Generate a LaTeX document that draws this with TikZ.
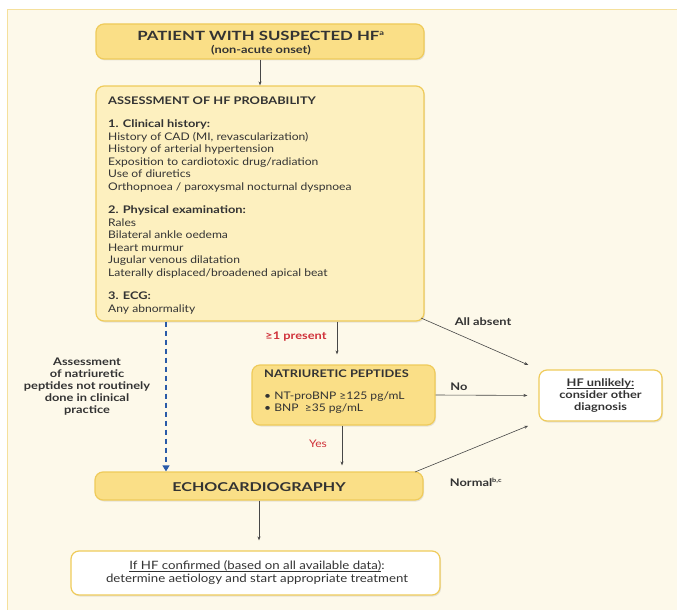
\documentclass[tikz,border=0pt]{standalone}
\usepackage{fontspec}
\setmainfont{Lato}[FakeStretch=1.15]
\newfontfamily\headfont{Lato}[FakeStretch=1.22]
\newfontfamily\titlefont{Lato}[FakeStretch=1.32]
\usetikzlibrary{arrows.meta,shadows,calc}
\definecolor{bgpanel}{HTML}{FDF9EA}
\definecolor{gold}{HTML}{FADF87}
\definecolor{paleyellow}{HTML}{FDF0BF}
\definecolor{boxedge}{HTML}{EFCB5A}
\definecolor{redtxt}{HTML}{D0323A}
\definecolor{bluedash}{HTML}{2A5BA8}
\definecolor{txt}{HTML}{333333}
\tikzset{
  box/.style={draw=boxedge, line width=1.2pt, rounded corners=8pt, inner sep=0pt,
    drop shadow={opacity=0.18, shadow xshift=1pt, shadow yshift=-1.5pt}},
  goldbox/.style={box, fill=gold},
  palebox/.style={box, fill=paleyellow},
  whitebox/.style={box, fill=white},
  conn/.style={draw=txt!90, line width=0.6pt, -{Stealth[length=4pt,width=3pt]}},
  lbl/.style={font=\headfont\fontsize{10.5}{12}\selectfont\bfseries, text=txt, inner sep=0pt},
}
\newcommand{\hd}[1]{{\headfont\bfseries #1}}
\newcommand{\ulx}[1]{\setbox0\hbox{#1}\rlap{\rule[-2pt]{\wd0}{0.75pt}}\box0}
\begin{document}
\begin{tikzpicture}[x=1pt,y=-1pt]
\useasboundingbox (0,0) rectangle (677,610);
\fill[white] (0,0) rectangle (677,610);
\fill[bgpanel] (7,9) rectangle (677,610);
\draw[boxedge!60, line width=0.6pt] (7,610) -- (7,9) -- (677,9);

% boxes
\node[goldbox, minimum width=328pt, minimum height=35pt] (start) at (260,41.5) {};
\node[text=txt, align=center, inner sep=0pt] (starttxt) at (261,43)
  {\titlefont\fontsize{12.7}{13}\selectfont\bfseries PATIENT WITH SUSPECTED HF\textsuperscript{\fontsize{7}{7}\selectfont a}\\[1pt]
   \headfont\fontsize{10.5}{11}\selectfont\bfseries (non-acute onset)};

\node[palebox, minimum width=328pt, minimum height=235pt] (assess) at (260,203.5) {};
\node[anchor=north west, text=txt, align=left, inner sep=0pt,
  font=\fontsize{10.5}{12.5}\selectfont] (assesstxt) at (108,96.5)
  {\hd{ASSESSMENT OF HF PROBABILITY}\\[11pt]
   \hd{1. Clinical history:}\\
   History of CAD (MI, revascularization)\\
   History of arterial hypertension\\
   Exposition to cardiotoxic drug/radiation\\
   Use of diuretics\\
   Orthopnoea / paroxysmal nocturnal dyspnoea\\[11pt]
   \hd{2. Physical examination:}\\
   Rales\\
   Bilateral ankle oedema\\
   Heart murmur\\
   Jugular venous dilatation\\
   Laterally displaced/broadened apical beat\\[11pt]
   \hd{3. ECG:}\\
   Any abnormality};

\node[goldbox, minimum width=183pt, minimum height=60pt] (np) at (343.5,395) {};
\node[anchor=north west, text=txt, align=left, inner sep=0pt,
  font=\fontsize{10.5}{12.4}\selectfont] (nptxt) at (264,370)
  {\hd{NATRIURETIC PEPTIDES}\\[9pt]
   • NT-proBNP ≥125 pg/mL\\
   • BNP\ \ ≥35 pg/mL};

\node[whitebox, minimum width=123pt, minimum height=51pt] (unlikely) at (600.5,395.5) {};
\node[text=txt, align=center, inner sep=0pt, font=\headfont\fontsize{10.5}{12}\selectfont\bfseries] (unlikelytxt) at (600.5,396)
  {\ulx{HF unlikely:}\\consider other\\diagnosis};

\node[goldbox, minimum width=328pt, minimum height=28pt] (echo) at (259,486) {};
\node[text=txt, inner sep=0pt, font=\titlefont\fontsize{12.2}{14}\selectfont\bfseries] (echotxt) at (259,487) {ECHOCARDIOGRAPHY};

\node[whitebox, minimum width=369pt, minimum height=44pt] (final) at (255.5,573) {};
\node[text=txt, align=center, inner sep=0pt, font=\fontsize{11.5}{13}\selectfont] (finaltxt) at (257,573)
  {\ulx{If HF confirmed (based on all available data)}:\\determine aetiology and start appropriate treatment};

% side text
\node[lbl, align=center] (note) at (87,387)
  {Assessment\\of natriuretic\\peptides not routinely\\done in clinical\\practice};

% connectors
\draw[conn] (start.south) -- (assess.north);
\draw[conn, bluedash, draw=bluedash, line width=1.2pt, dash pattern=on 5pt off 4pt,
  -{Triangle[length=6pt,width=7pt]}] (assess.south -| 166,0) -- (echo.north -| 166,0);
\draw[conn] (assess.south -| 337,0) -- ($(np.north -| 337,0)+(0,-10)$);
\node[lbl, text=redtxt] (present) at (296,337) {≥1 present};
\coordinate (c1) at (421,318);
\draw[conn, shorten >=11pt] (c1) -- (unlikely.north west);
\node[lbl] (allabsent) at (483,322) {All absent};
\draw[conn, shorten >=11pt] (np.east) -- (unlikely.west);
\node[lbl] (no) at (459,387) {No};
\draw[conn] (np.south -| 342,0) -- ($(echo.north -| 342,0)+(0,-6)$);
\node[lbl, font=\fontsize{10.5}{12}\selectfont, text=redtxt] (yes) at (318,444) {Yes};
\coordinate (c2) at (415,472);
\draw[conn, shorten >=11pt] (c2) -- (unlikely.south west);
\node[lbl] (normal) at (476,482) {Normal\textsuperscript{\fontsize{6}{6}\selectfont b,c}};
\draw[conn, shorten >=10pt] (echo.south) -- (final.north -| echo.south);
\end{tikzpicture}
\end{document}
